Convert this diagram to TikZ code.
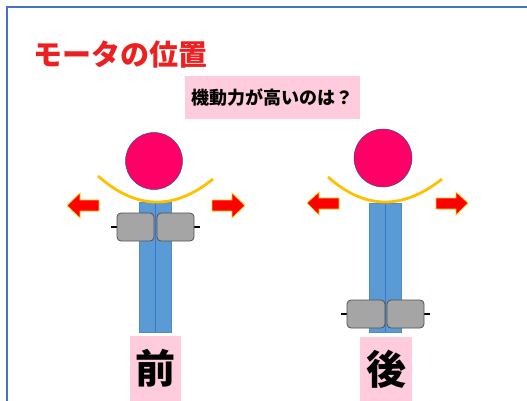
\documentclass[tikz,border=0pt]{standalone}
\usepackage{fontspec}
\newfontfamily\jpfont{Noto Sans CJK JP}
\definecolor{frameblue}{RGB}{68,114,196}
\definecolor{titlered}{RGB}{236,32,32}
\definecolor{boxpink}{RGB}{255,204,221}
\definecolor{headpink}{RGB}{255,0,102}
\definecolor{headedge}{RGB}{47,82,143}
\definecolor{armgold}{RGB}{255,192,0}
\definecolor{barblue}{RGB}{91,155,213}
\definecolor{barline}{RGB}{68,114,196}
\definecolor{motorgray}{RGB}{165,165,165}
\definecolor{motoredge}{RGB}{80,80,80}
\begin{document}
\begin{tikzpicture}[x=1pt,y=-1pt,
    frame/.style={draw=frameblue, line width=2pt},
    label/.style={fill=boxpink, inner sep=0pt, font=\jpfont\bfseries},
    head/.style={fill=headpink, draw=headedge, line width=0.5pt},
    arm/.style={draw=armgold, line width=2.8pt},
    push/.style={fill=red, draw=yellow!70!orange, line width=0.7pt},
    bar/.style={fill=barblue, draw=barblue!90!black, line width=0.5pt},
    motor/.style={fill=motorgray, draw=motoredge, line width=0.8pt, rounded corners=4pt},
    shaft/.style={draw=black, line width=1.2pt}]
    \useasboundingbox (0,0) rectangle (527,401);

    % Slide frame
    \draw[frame] (7,401) -- (7,7) -- (527,7);

    % Title and question
    \node[anchor=west, inner sep=0pt, text=titlered, font=\jpfont\bfseries\fontsize{29}{29}\selectfont] (title) at (33,55) {モータの位置};
    \node[label, minimum width=175, minimum height=43, font=\jpfont\bfseries\fontsize{18}{18}\selectfont] (ask) at (272.5,97.5) {機動力が高いのは？};

    % Left body: motors near the front
    \fill[bar] (139,202) rectangle (171,332);
    \draw[barline, line width=1pt] (155,202) -- (155,332);
    \draw[arm] (98,176) .. controls (136,209.7) and (174,210.7) .. (213,179);
    \fill[head] (154,161) circle (28.5);
    \draw[push] (67,205.5) -- (80,193) -- (80,200) -- (99,200) -- (99,211) -- (80,211) -- (80,218) -- cycle;
    \draw[push] (245,205.5) -- (232,193) -- (232,200) -- (212,200) -- (212,211) -- (232,211) -- (232,218) -- cycle;
    \draw[shaft] (111,227) -- (117,227);
    \draw[shaft] (194,227) -- (200,227);
    \draw[motor] (117,213) rectangle (154,241);
    \draw[motor] (157,213) rectangle (194,241);
    \node[label, minimum width=51, minimum height=65, font=\jpfont\bfseries\fontsize{40}{40}\selectfont] (front) at (155.5,368.5) {前};

    % Right body: motors near the rear
    \fill[bar] (369,203) rectangle (401,332);
    \draw[barline, line width=1pt] (385,203) -- (385,332);
    \draw[arm] (328,177) .. controls (364.7,209.7) and (402.7,210.3) .. (442,179);
    \fill[head] (383,158) circle (29);
    \draw[push] (307,203) -- (319,192) -- (319,198) -- (339,198) -- (339,209) -- (319,209) -- (319,215) -- cycle;
    \draw[push] (468,203) -- (456,192) -- (456,198) -- (436,198) -- (436,209) -- (456,209) -- (456,215) -- cycle;
    \draw[shaft] (341,314) -- (347,314);
    \draw[shaft] (424,314) -- (430,314);
    \draw[motor] (347,300) rectangle (385,328);
    \draw[motor] (387,300) rectangle (424,328);
    \node[label, minimum width=52, minimum height=64, font=\jpfont\bfseries\fontsize{40}{40}\selectfont] (rear) at (386,369) {後};
\end{tikzpicture}
\end{document}
